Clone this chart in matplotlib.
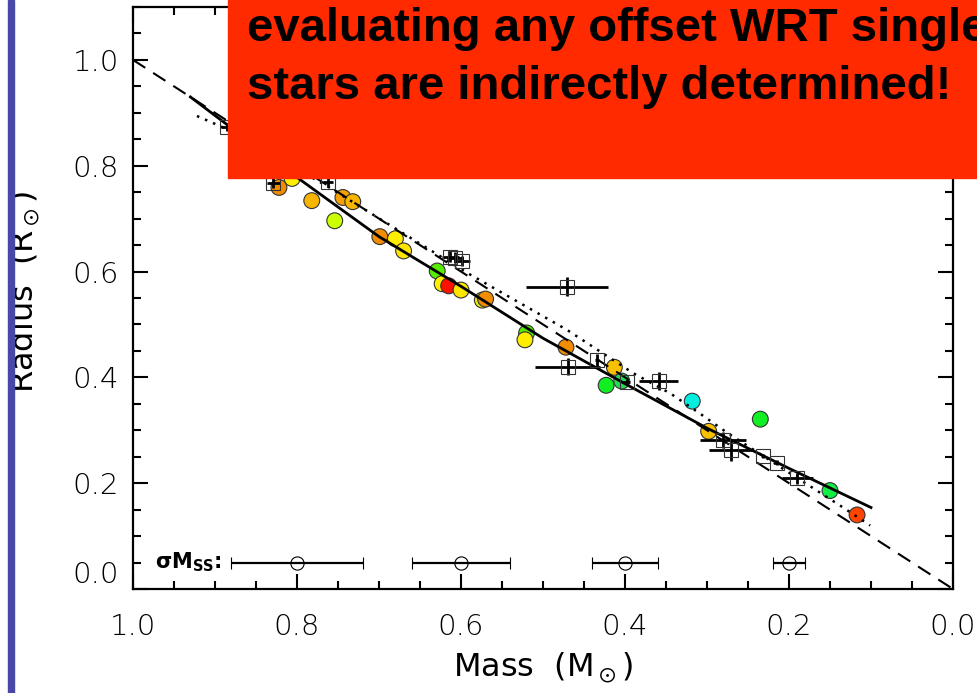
import numpy as np
import matplotlib
matplotlib.use("Agg")
import matplotlib.pyplot as plt
from matplotlib.patches import Rectangle
from matplotlib import font_manager

# mass-radius data (solar units)
# coloured circles: single-star / eclipsing measurements
circ_mass = [0.822, 0.806, 0.782, 0.754, 0.744, 0.732, 0.699, 0.680, 0.670,
             0.629, 0.623, 0.615, 0.600, 0.574, 0.570, 0.520, 0.522, 0.472,
             0.413, 0.423, 0.404, 0.318, 0.298, 0.235, 0.150, 0.117]
circ_rad = [0.759, 0.776, 0.734, 0.696, 0.740, 0.732, 0.666, 0.662, 0.639,
            0.601, 0.577, 0.573, 0.565, 0.546, 0.548, 0.484, 0.471, 0.457,
            0.419, 0.385, 0.393, 0.355, 0.298, 0.321, 0.186, 0.140]
circ_col = ["#f28c00", "#ffee00", "#f7b500", "#ccff00", "#f5a000", "#f7b500",
            "#f28c00", "#ffee00", "#ffe600", "#55ee00", "#ffee00", "#ff1100",
            "#ffe600", "#ddee00", "#f28c00", "#55ee00", "#ffee00", "#f28c00",
            "#f7c000", "#11ee22", "#22dd55", "#00eedd", "#f7c000", "#11ee22",
            "#11ee44", "#ff4400"]

# open squares: binary components with error bars
sq_mass = [0.885, 0.829, 0.762, 0.613, 0.607, 0.599, 0.471, 0.470, 0.434,
           0.398, 0.359, 0.280, 0.271, 0.232, 0.215, 0.190]
sq_rad = [0.873, 0.768, 0.770, 0.628, 0.626, 0.620, 0.571, 0.420, 0.433,
          0.391, 0.393, 0.281, 0.262, 0.252, 0.239, 0.209]
sq_merr = [0.008, 0.008, 0.006, 0.010, 0.010, 0.010, 0.050, 0.040, 0.002,
           0.004, 0.024, 0.028, 0.027, 0.002, 0.002, 0.019]
sq_rerr = [0.008, 0.010, 0.010, 0.010, 0.010, 0.010, 0.018, 0.016, 0.012,
           0.006, 0.017, 0.015, 0.020, 0.004, 0.004, 0.010]

# curves
fit_mass = [0.93, 0.80, 0.70, 0.60, 0.50, 0.40, 0.30, 0.20, 0.10]
fit_rad = [0.93, 0.778, 0.666, 0.572, 0.474, 0.388, 0.304, 0.228, 0.154]
mod_mass = [0.922, 0.885, 0.763, 0.593, 0.471, 0.390, 0.345, 0.309, 0.276, 0.134, 0.101]
mod_rad = [0.894, 0.869, 0.761, 0.598, 0.490, 0.408, 0.370, 0.332, 0.296, 0.154, 0.120]
eq_mass = [1.0, 0.0]
eq_rad = [1.0, 0.0]

# sigma M_ss error scale
sig_mass = [0.8, 0.6, 0.4, 0.2]
sig_rad = [0.05, 0.05, 0.05, 0.05]
sig_err = [0.08, 0.06, 0.04, 0.02]

# thin font for the axes if one is installed
axis_font = "DejaVu Sans"
for want in ["DejaVu Sans", "Open Sans", "Noto Sans", "Roboto", "Lato", "Inter"]:
    hits = [f for f in font_manager.fontManager.ttflist
            if f.name == want and isinstance(f.weight, int) and f.weight <= 300
            and f.style == "normal"]
    if hits:
        axis_font = want
        break
plt.rcParams["font.family"] = [axis_font, "DejaVu Sans"]
plt.rcParams["font.weight"] = "light"
plt.rcParams["mathtext.fontset"] = "dejavusans"

fig = plt.figure(figsize=(9.77, 6.93), dpi=100)
ax = fig.add_axes([133/977, 1 - 589/693, 820/977, 582/693])

ax.plot(eq_mass, eq_rad, color="black", lw=1.5, ls=(0, (7, 4.5)), zorder=3)
ax.plot(mod_mass, mod_rad, color="black", lw=1.8, ls=(0, (1, 2.5)), zorder=3)
ax.plot(fit_mass, fit_rad, color="black", lw=2.0, zorder=4)

ax.errorbar([0.744], [0.740], xerr=0.01, yerr=0.015, fmt="none",
            ecolor="#f5a000", elinewidth=1, zorder=1)
ax.scatter(circ_mass, circ_rad, s=130, c=circ_col,
           edgecolors="#333333", linewidths=0.8, zorder=2)

ax.errorbar(sq_mass, sq_rad, xerr=sq_merr, yerr=sq_rerr, fmt="s", ms=10,
            mfc="none", mec="#333333", mew=0.8, ecolor="black",
            elinewidth=2, capsize=0, zorder=5)

ax.errorbar(sig_mass, sig_rad, xerr=sig_err, fmt="o", ms=9.5, mfc="none",
            mec="black", mew=0.8, ecolor="black", elinewidth=1.6,
            capsize=4, capthick=1.6, zorder=5)
ax.text(0.973, 0.05, r"$\mathbf{\sigma M_{SS}}$:", fontsize=15,
        weight="bold", family="DejaVu Sans", ha="left", va="center")

ax.set_xlim(1.0, 0.0)
ax.set_ylim(0.0, 1.1)
ax.set_xticks([1.0, 0.8, 0.6, 0.4, 0.2, 0.0])
ax.set_yticks([0.0, 0.2, 0.4, 0.6, 0.8, 1.0])
ax.set_xticks(np.arange(0.0, 1.0001, 0.05), minor=True)
ax.set_yticks(np.arange(0.0, 1.1001, 0.05), minor=True)
ax.xaxis.set_major_formatter(matplotlib.ticker.FormatStrFormatter("%.1f"))
ax.yaxis.set_major_formatter(matplotlib.ticker.FormatStrFormatter("%.1f"))
ax.tick_params(which="both", direction="in", top=True, right=True,
               width=1.5, labelsize=21)
ax.tick_params(which="major", length=11)
ax.tick_params(which="minor", length=6)
ax.tick_params(axis="x", pad=17)
ax.tick_params(axis="y", pad=10)
# bottom y label sits just above the axis, as in the original
ax.yaxis.get_major_ticks()[0].label1.set_verticalalignment("bottom")
for sp in ax.spines.values():
    sp.set_linewidth(1.6)

ax.set_xlabel(r"Mass  (M$_\odot$)", fontsize=23, va="center")
ax.xaxis.set_label_coords(0.5, -0.136)
ax.set_ylabel(r"Radius  (R$_\odot$)", fontsize=23, va="center")
ax.yaxis.set_label_coords(-0.132, 0.51)

# slide decorations: blue side bar and red call-out box
fig.patches.append(Rectangle((8/977, 0), 6/977, 1, transform=fig.transFigure,
                             color="#4848a8", zorder=0))
fig.patches.append(Rectangle((228/977, 1 - 178/693), 1, 178/693,
                             transform=fig.transFigure, color="#ff2a00",
                             zorder=10))
box_font = ["Liberation Sans Narrow", "Liberation Sans", "DejaVu Sans"]
fig.text(247/977, 1 - 41/693, "evaluating any offset WRT single",
         family=box_font, weight="bold", fontsize=34, zorder=11)
fig.text(247/977, 1 - 99/693, "stars are indirectly determined!",
         family=box_font, weight="bold", fontsize=34, zorder=11)

fig.savefig("out.png", dpi=100)
